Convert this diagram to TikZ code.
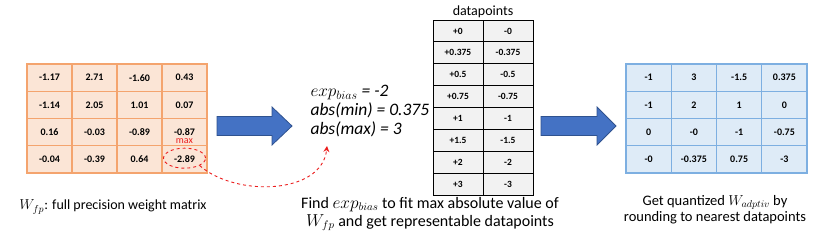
\documentclass[tikz,border=0pt]{standalone}
\usepackage{fontspec}
\setmainfont{Carlito}
\usetikzlibrary{shapes.geometric, arrows.meta}
\definecolor{wfill}{HTML}{FBE5D6}
\definecolor{wline}{RGB}{244,164,110}
\definecolor{qfill}{HTML}{DEEBF7}
\definecolor{qline}{RGB}{125,175,225}
\definecolor{dfill}{HTML}{F2F2F2}
\definecolor{arrfill}{HTML}{4472C4}
\definecolor{arrline}{HTML}{2F528F}
\definecolor{maxred}{RGB}{235,30,30}
\begin{document}
\begin{tikzpicture}[x=1pt, y=-1pt, >=stealth,
    wcell/.style={draw=wline, line width=1.4pt, fill=wfill, minimum width=45pt, minimum height=27.25pt, inner sep=0pt, font=\fontsize{10}{12}\selectfont\bfseries},
    qcell/.style={draw=qline, line width=1.4pt, fill=qfill, minimum width=45.25pt, minimum height=27.25pt, inner sep=0pt, font=\fontsize{10}{12}\selectfont\bfseries},
    dcell/.style={draw=black, line width=0.8pt, fill=dfill, minimum width=50pt, minimum height=21.875pt, inner sep=0pt, font=\fontsize{9.5}{11}\selectfont\bfseries},
    bigarrow/.style={draw=arrline, line width=0.8pt, fill=arrfill},
    caption/.style={align=center, font=\fontsize{14}{16}\selectfont}]
    \useasboundingbox (0,0) rectangle (822,244);
    % full precision weights
    \foreach \r/\row in {1/{-1.17,2.71,-1.60,0.43}, 2/{-1.14,2.05,1.01,0.07}, 3/{0.16,-0.03,-0.89,-0.87}, 4/{-0.04,-0.39,0.64,-2.89}}
        \foreach \v [count=\c] in \row
            \node (w-\r-\c) [wcell] at (4.5+45*\c, 50.375+27.25*\r) {\v};
    \node (maxell) [ellipse, draw=maxred, dashed, line width=0.9pt, minimum width=42pt, minimum height=20pt] at ([yshift=1.2pt]w-4-4.center) {};
    \node (maxlbl) [text=maxred, font=\fontsize{10}{11}\selectfont] at (184.5,141.5) {max};
    \node (wlbl) [caption] at (113,207) {$W_{fp}$: full precision weight matrix};
    % block arrows
    \draw [bigarrow] (217,116.5) -- (272,116.5) -- (272,107) -- (292,126) -- (272,145) -- (272,135.5) -- (217,135.5) -- cycle;
    \draw [bigarrow] (541,116.5) -- (597,116.5) -- (597,107) -- (616,126) -- (597,145) -- (597,135.5) -- (541,135.5) -- cycle;
    % exponent bias
    \node (params) [anchor=west, align=left, font=\fontsize{17.5}{19}\selectfont\itshape] at (307,111)
        {$exp_{bias}$ = -2\\ abs(min) = 0.375\\ abs(max) = 3};
    \coordinate (maxtip) at (327,146);
    \draw [maxred, dashed, line width=0.9pt, -{Stealth[length=6pt,width=6pt]}]
        (maxell.south east) .. controls (235,197) and (322,195) .. (maxtip);
    % datapoints
    \node (dphead) [font=\fontsize{14}{16}\selectfont] at (483,12) {datapoints};
    \foreach \p [count=\k] in {0,0.375,0.5,0.75,1,1.5,2,3} {
        \node (dpos-\k) [dcell] at (458, 9.0625+21.875*\k) {+\p};
        \node (dneg-\k) [dcell] at (508, 9.0625+21.875*\k) {-\p};
    }
    \node (findlbl) [caption, font=\fontsize{16}{18}\selectfont] at (430,214) {Find $exp_{bias}$ to fit max absolute value of\\ $W_{fp}$ and get representable datapoints};
    % quantized weights
    \foreach \r/\row in {1/{-1,3,-1.5,0.375}, 2/{-1,2,1,0}, 3/{0,-0,-1,-0.75}, 4/{-0,-0.375,0.75,-3}}
        \foreach \v [count=\c] in \row
            \node (q-\r-\c) [qcell] at (603.4+45.25*\c, 50.375+27.25*\r) {\v};
    \node (qlbl) [caption, font=\fontsize{14.5}{16}\selectfont] at (715,210) {Get quantized $W_{adptiv}$ by\\ rounding to nearest datapoints};
\end{tikzpicture}
\end{document}
